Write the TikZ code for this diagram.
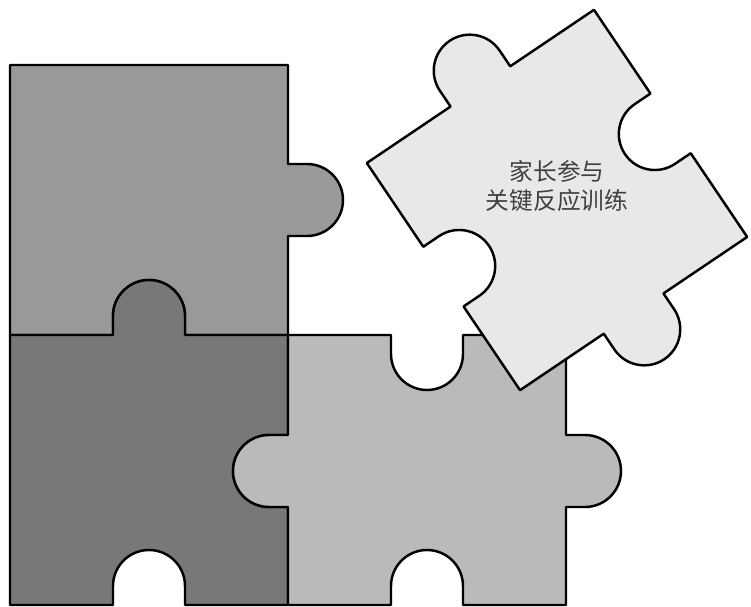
\documentclass[tikz,border=0pt]{standalone}
\usepackage{fontspec}
\newfontfamily\cjk{Noto Sans CJK SC}
\definecolor{pieceUL}{gray}{0.60}
\definecolor{pieceLL}{gray}{0.47}
\definecolor{pieceLR}{gray}{0.73}
\definecolor{pieceTop}{gray}{0.91}
\definecolor{labelgray}{gray}{0.25}

\begin{document}
\begin{tikzpicture}[x=0.02cm, y=0.02cm,
    piece/.style={draw=black, line width=1.4pt, line join=round}]
    \useasboundingbox (0,0) rectangle (751,606);

    % Upper left piece: tab to the right, socket at the bottom
    \filldraw[piece, fill=pieceUL] (10,271) -- (113,271) -- (113,290)
        arc[start angle=180, end angle=0, radius=36] -- (185,271) -- (288,271)
        -- (288,370) -- (307,370) arc[start angle=-90, end angle=90, radius=36]
        -- (288,442) -- (288,541) -- (10,541) -- cycle;

    % Lower left piece: tab upwards, sockets right and bottom
    \filldraw[piece, fill=pieceLL] (10,1) -- (113,1) -- (113,20)
        arc[start angle=180, end angle=0, radius=36] -- (185,1) -- (288,1)
        -- (288,99) -- (269,99) arc[start angle=270, end angle=90, radius=36]
        -- (288,171) -- (288,271) -- (185,271) -- (185,290)
        arc[start angle=0, end angle=180, radius=36] -- (113,271) -- (10,271) -- cycle;

    % Lower right piece: tabs left and right, sockets top and bottom
    \filldraw[piece, fill=pieceLR] (288,1) -- (391,1) -- (391,20)
        arc[start angle=180, end angle=0, radius=36] -- (463,1) -- (566,1)
        -- (566,99) -- (585,99) arc[start angle=-90, end angle=90, radius=36]
        -- (566,171) -- (566,271) -- (463,271) -- (463,252)
        arc[start angle=0, end angle=-180, radius=36] -- (391,271) -- (288,271)
        -- (288,171) -- (269,171) arc[start angle=90, end angle=270, radius=36]
        -- (288,99) -- cycle;

    % Loose piece, turned
    \begin{scope}[shift={(557,406)}, rotate=34]
        \filldraw[piece, fill=pieceTop] (-137,-137) -- (-36,-137) -- (-36,-156)
            arc[start angle=180, end angle=360, radius=36] -- (36,-137) -- (137,-137)
            -- (137,-36) -- (118,-36) arc[start angle=-90, end angle=-270, radius=36]
            -- (137,36) -- (137,137) -- (36,137) -- (36,156)
            arc[start angle=0, end angle=180, radius=36] -- (-36,137) -- (-137,137)
            -- (-137,36) -- (-118,36) arc[start angle=90, end angle=-90, radius=36]
            -- (-137,-36) -- cycle;
    \end{scope}

    \node[align=center, text=labelgray, font=\cjk\fontsize{13.5}{16}\selectfont]
        (pru) at (557,420) {家长参与\\关键反应训练};
\end{tikzpicture}
\end{document}
